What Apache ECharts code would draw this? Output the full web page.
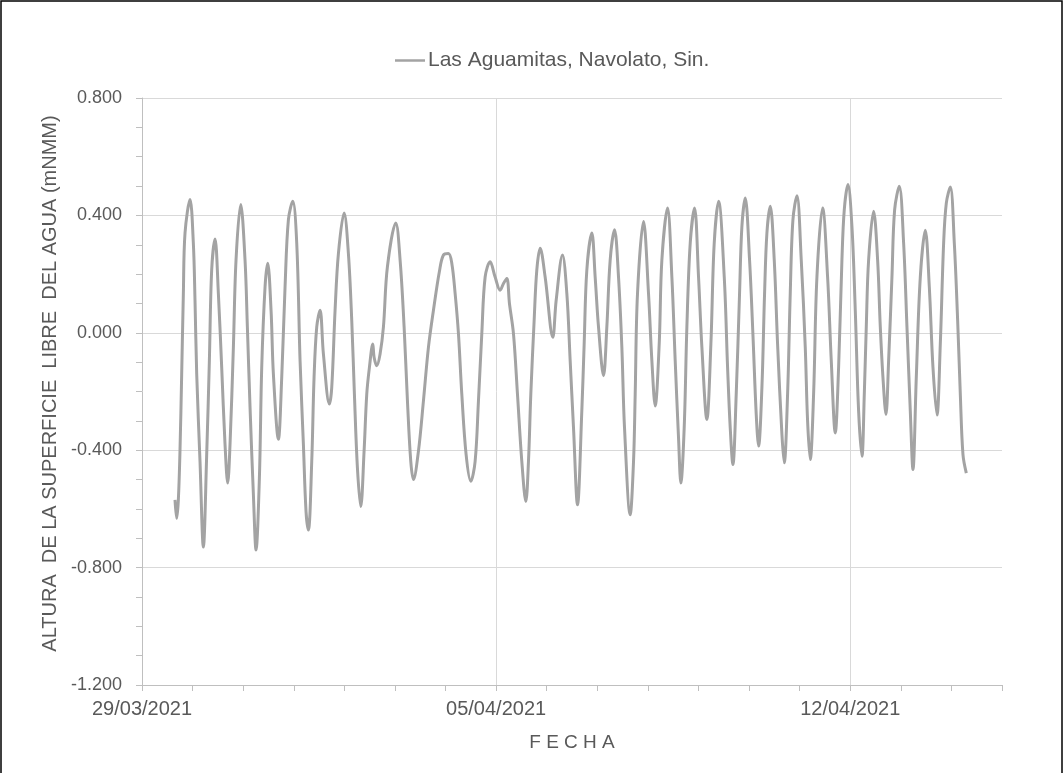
<!DOCTYPE html>
<html>
<head>
<meta charset="utf-8">
<script src="https://cdn.jsdelivr.net/npm/echarts@6/dist/echarts.min.js"></script>
<style>
html,body{margin:0;padding:0;background:#fff;}
#chart{width:1064px;height:773px;}
</style>
</head>
<body>
<div id="chart"></div>
<script>
// Hours since 29/03/2021 00:00
const hours = [
15.66,16.45,17.24,18.03,18.83,19.62,20.41,22.78,24.36,25.15,25.95,27.53,29.11,30.69,31.96,33.06,34.65,36.23,37.81,39.39,40.66,41.76,43.35,44.61,46.83,48.88,49.99,51.26,52.84,54.10,55.69,56.80,58.38,59.64,61.22,62.33,64.70,66.29,67.87,69.45,71.51,73.41,74.99,
76.57,77.83,78.94,80.52,81.63,82.90,84.48,86.06,88.91,90.02,91.60,93.18,95.87,97.92,99.51,100.77,102.20,103.78,105.36,106.63,107.89,109.48,110.11,111.38,112.95,114.54,116.43,120.39,122.45,124.35,125.93,127.51,128.78,131.15,133.52,135.90,138.27,141.11,
143.01,145.38,146.97,148.55,150.13,151.72,153.77,155.99,158.04,159.62,161.21,162.79,165.16,167.53,169.91,171.49,173.07,174.34,176.23,178.13,180.19,182.09,183.35,184.46,186.04,187.31,188.89,191.26,194.90,196.48,199.49,201.55,203.13,204.71,206.61,
208.66,209.77,211.04,213.41,214.99,216.57,218.95,220.53,222.11,224.17,226.07,227.65,228.91,231.60,233.19,233.98,235.08,237.93,240.30,241.89,243.47,245.37,246.64,249.32,251.38,252.96,254.54,255.65,257.23,258.50,260.08,262.14,264.03,265.62,267.99,269.89,271.47,273.53,
276.23,277.81,279.06,280.33,281.91,283.49,284.60,286.18,288.24,289.82,291.40,292.51,294.10,295.36,296.47,298.05,299.95,301.53,303.59,304.69,306.28,307.54,308.81,310.71,312.76,314.66,315.77,317.03,318.62,320.20,322.89,325.26,327.00,328.90,330.48,332.06,333.17,334.91,336.81,338.39,339.97,
341.56,342.67,343.61,344.72,347.09,348.99,350.26,351.52,352.95,354.21,355.79,357.06,359.27,361.33,362.91,364.49,365.76,367.34,369.24,371.61,373.51,375.25,377.15,378.73,380.31,381.58,383.48,385.38,386.96,388.22,389.49,391.07
];
// Water surface level (mNMM)
const level = [
-0.569,-0.632,-0.570,-0.400,-0.140,0.134,0.340,0.454,0.305,0.110,-0.140,-0.440,-0.730,-0.415,-0.095,0.214,0.320,0.134,-0.118,-0.380,-0.512,-0.380,-0.050,0.248,0.437,0.248,0.020,-0.255,-0.550,-0.740,-0.495,-0.118,0.157,0.237,0.077,-0.140,-0.363,-0.152,0.157,0.385,0.448,0.305,-0.095,
-0.380,-0.610,-0.672,-0.440,-0.152,0.020,0.077,-0.072,-0.243,-0.186,0.077,0.270,0.408,0.270,0.042,-0.209,-0.460,-0.592,-0.403,-0.209,-0.118,-0.038,-0.083,-0.112,-0.072,0.020,0.225,0.374,0.248,0.020,-0.232,-0.438,-0.500,-0.403,-0.232,-0.049,0.077,0.210,
0.265,0.270,0.237,0.134,-0.003,-0.209,-0.415,-0.506,-0.438,-0.232,-0.003,0.190,0.242,0.190,0.145,0.168,0.185,0.099,-0.003,-0.209,-0.438,-0.575,-0.438,-0.209,0.042,0.214,0.288,0.190,-0.015,0.110,0.265,0.134,-0.095,-0.323,-0.586,
-0.266,-0.038,0.214,0.340,0.190,0.020,-0.146,0.020,0.248,0.351,0.190,-0.049,-0.323,-0.620,-0.438,-0.209,0.134,0.379,0.134,-0.095,-0.249,-0.038,0.248,0.425,0.190,-0.095,-0.358,-0.512,-0.323,0.020,0.305,0.425,0.190,-0.049,-0.295,-0.038,0.305,0.448,
0.190,-0.118,-0.323,-0.449,-0.209,0.134,0.362,0.459,0.248,-0.003,-0.278,-0.386,-0.186,0.134,0.340,0.431,0.248,-0.038,-0.346,-0.443,-0.209,0.134,0.385,0.467,0.248,-0.049,-0.301,-0.432,-0.209,0.190,0.425,0.190,-0.095,-0.341,-0.118,0.248,0.419,0.505,0.362,0.077,-0.266,
-0.421,-0.209,0.020,0.248,0.414,0.248,0.020,-0.152,-0.278,-0.095,0.190,0.419,0.499,0.305,0.020,-0.266,-0.466,-0.152,0.190,0.349,0.157,-0.118,-0.280,-0.038,0.305,0.442,0.497,0.305,0.042,-0.209,-0.415,-0.478
];
const weekHours = [0, 168, 336];
const weekLabels = ['29/03/2021', '05/04/2021', '12/04/2021'];
const seriesName = 'Las Aguamitas, Navolato, Sin.';
const yTitle = 'ALTURA  DE LA SUPERFICIE  LIBRE  DEL AGUA (mNMM)';
const xTitle = 'F E C H A';

const data = hours.map((h, i) => [h, level[i]]);
const font = 'Liberation Sans';
const txt = '#595959';
const lineColor = '#a3a3a3';

const chart = echarts.init(document.getElementById('chart'), null, {renderer: 'canvas'});
chart.setOption({
  animation: false,
  backgroundColor: '#fff',
  graphic: [{
    type: 'rect', silent: true,
    shape: {x: 1, y: 1, width: 1061, height: 800},
    style: {fill: 'none', stroke: '#000', lineWidth: 1.5}
  }],
  legend: {
    left: 390, top: 45,
    icon: 'rect',
    itemWidth: 30, itemHeight: 2.5, itemGap: 4,
    textStyle: {fontFamily: font, fontSize: 21, color: txt, padding: [0, 0, 0, -2]},
    data: [seriesName]
  },
  grid: {left: 142, right: 62, top: 98, bottom: 88, containLabel: false},
  xAxis: [{
    type: 'value', min: 0, max: 408, interval: 24,
    axisLine: {show: true, onZero: false, lineStyle: {color: '#bfbfbf', width: 1}},
    axisTick: {show: true, length: 6, lineStyle: {color: '#bfbfbf'}},
    splitLine: {show: false},
    axisLabel: {
      margin: 14, fontFamily: font, fontSize: 20, color: txt,
      formatter: v => { const k = weekHours.indexOf(Math.round(v)); return k >= 0 ? weekLabels[k] : ''; }
    },
    name: xTitle, nameLocation: 'middle', nameGap: 48,
    nameTextStyle: {fontFamily: font, fontSize: 19, color: txt}
  }, {
    type: 'value', min: 0, max: 408, interval: 168, position: 'bottom',
    axisLine: {show: false, onZero: false}, axisTick: {show: false}, axisLabel: {show: false},
    splitLine: {show: true, showMinLine: false, showMaxLine: false, lineStyle: {color: '#d9d9d9', width: 1}}
  }],
  yAxis: {
    type: 'value', min: -1.2, max: 0.8, interval: 0.4,
    axisLine: {show: true, lineStyle: {color: '#bfbfbf', width: 1}},
    axisTick: {show: true, length: 6, lineStyle: {color: '#bfbfbf'}},
    minorTick: {show: true, splitNumber: 4, length: 6, lineStyle: {color: '#bfbfbf'}},
    splitLine: {show: true, lineStyle: {color: '#d9d9d9', width: 1}},
    axisLabel: {margin: 20, fontFamily: font, fontSize: 18, color: txt, formatter: v => v.toFixed(3)},
    name: yTitle, nameLocation: 'middle', nameGap: 82, nameRotate: 90,
    nameTextStyle: {fontFamily: font, fontSize: 20, color: txt, padding: [0, 0, 0, 16]}
  },
  series: [{
    name: seriesName, type: 'line', xAxisIndex: 0, data: data,
    symbol: 'none', showSymbol: false, smooth: 0.35,
    lineStyle: {color: lineColor, width: 3},
    itemStyle: {color: lineColor}
  }]
});
</script>
</body>
</html>
